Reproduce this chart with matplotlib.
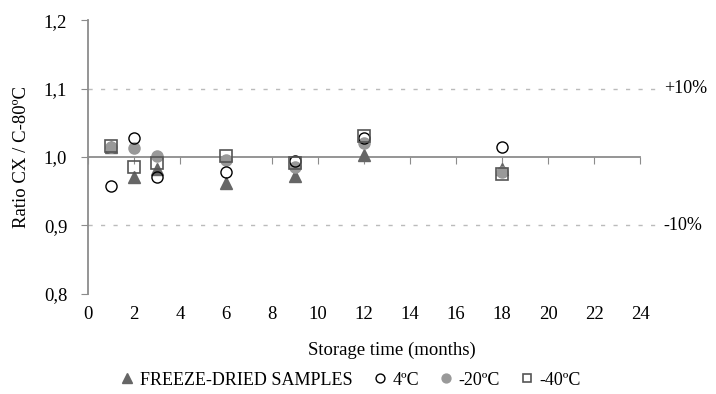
import numpy as np
import matplotlib.pyplot as plt

plt.rcParams['font.family'] = ['Liberation Serif', 'DejaVu Serif']

months = [1, 2, 3, 6, 9, 12, 18]
freeze_dried = [1.015, 0.971, 0.982, 0.962, 0.972, 1.003, 0.982]
c4 = [0.957, 1.028, 0.971, 0.978, 0.994, 1.028, 1.015]
c20 = [1.015, 1.013, 1.001, 0.996, 0.986, 1.020, 0.978]
c40 = [1.016, 0.986, 0.991, 1.001, 0.991, 1.030, 0.975]

y_ticks = [0.8, 0.9, 1.0, 1.1, 1.2]
y_tick_labels = ['0,8', '0,9', '1,0', '1,1', '1,2']
x_ticks = list(range(0, 25, 2))
limit_lines = [1.1, 0.9]
limit_labels = ['+10%', '-10%']

axis_gray = '#8c8c8c'

fig = plt.figure(figsize=(7.16, 3.94), dpi=100)
ax = fig.add_axes([0.123, 0.254, 0.771, 0.695])

ax.plot(months, freeze_dried, linestyle='none', marker='^', markersize=8.5,
        color='#666666', label='FREEZE-DRIED SAMPLES', zorder=3)
ax.plot(months, c20, linestyle='none', marker='o', markersize=8,
        color='#999999', label='-20ºC', zorder=4)
ax.plot(months, c4, linestyle='none', marker='o', markersize=8,
        markerfacecolor='none', markeredgecolor='black', markeredgewidth=1.0,
        label='4ºC', zorder=5)
ax.plot(months, c40, linestyle='none', marker='s', markersize=8,
        markerfacecolor='none', markeredgecolor='#555555', markeredgewidth=1.2,
        label='-40ºC', zorder=6)

for y, lab in zip(limit_lines, limit_labels):
    ax.axhline(y, xmin=0, xmax=1.04, color='#bbbbbb', linestyle=(0, (3, 6)),
               linewidth=1, clip_on=False, zorder=1)
    ax.text(1.043, y, lab, transform=ax.get_yaxis_transform(), va='center',
            ha='left', fontsize=13)

for s in ['top', 'right']:
    ax.spines[s].set_visible(False)
ax.spines['bottom'].set_position(('data', 1.0))
ax.spines['bottom'].set_color(axis_gray)
ax.spines['left'].set_color(axis_gray)
ax.spines['bottom'].set_linewidth(1.3)
ax.spines['left'].set_linewidth(1.3)

ax.set_xlim(0, 24)
ax.set_ylim(0.8, 1.2)
ax.set_yticks(y_ticks)
ax.set_yticklabels(y_tick_labels)
ax.set_xticks(x_ticks)
ax.set_xticklabels([str(t) for t in x_ticks])
ax.tick_params(axis='x', direction='out', length=5, color=axis_gray, pad=102,
               labelsize=13.5)
ax.tick_params(axis='y', direction='out', length=5, color=axis_gray, pad=10,
               labelsize=13.5)

ax.set_ylabel('Ratio CX / C-80ºC', fontsize=13.5, labelpad=10)
fig.text(0.548, 0.1, 'Storage time (months)', ha='center', fontsize=13.5)

handles, labels = ax.get_legend_handles_labels()
order = [0, 2, 1, 3]
fig.legend([handles[i] for i in order], [labels[i] for i in order],
           loc='center', bbox_to_anchor=(0.487, 0.035), ncol=4, frameon=False,
           fontsize=13, handletextpad=0.1, columnspacing=0.9,
           markerscale=0.8, handlelength=1.2)

fig.savefig('out.png', dpi=100)
